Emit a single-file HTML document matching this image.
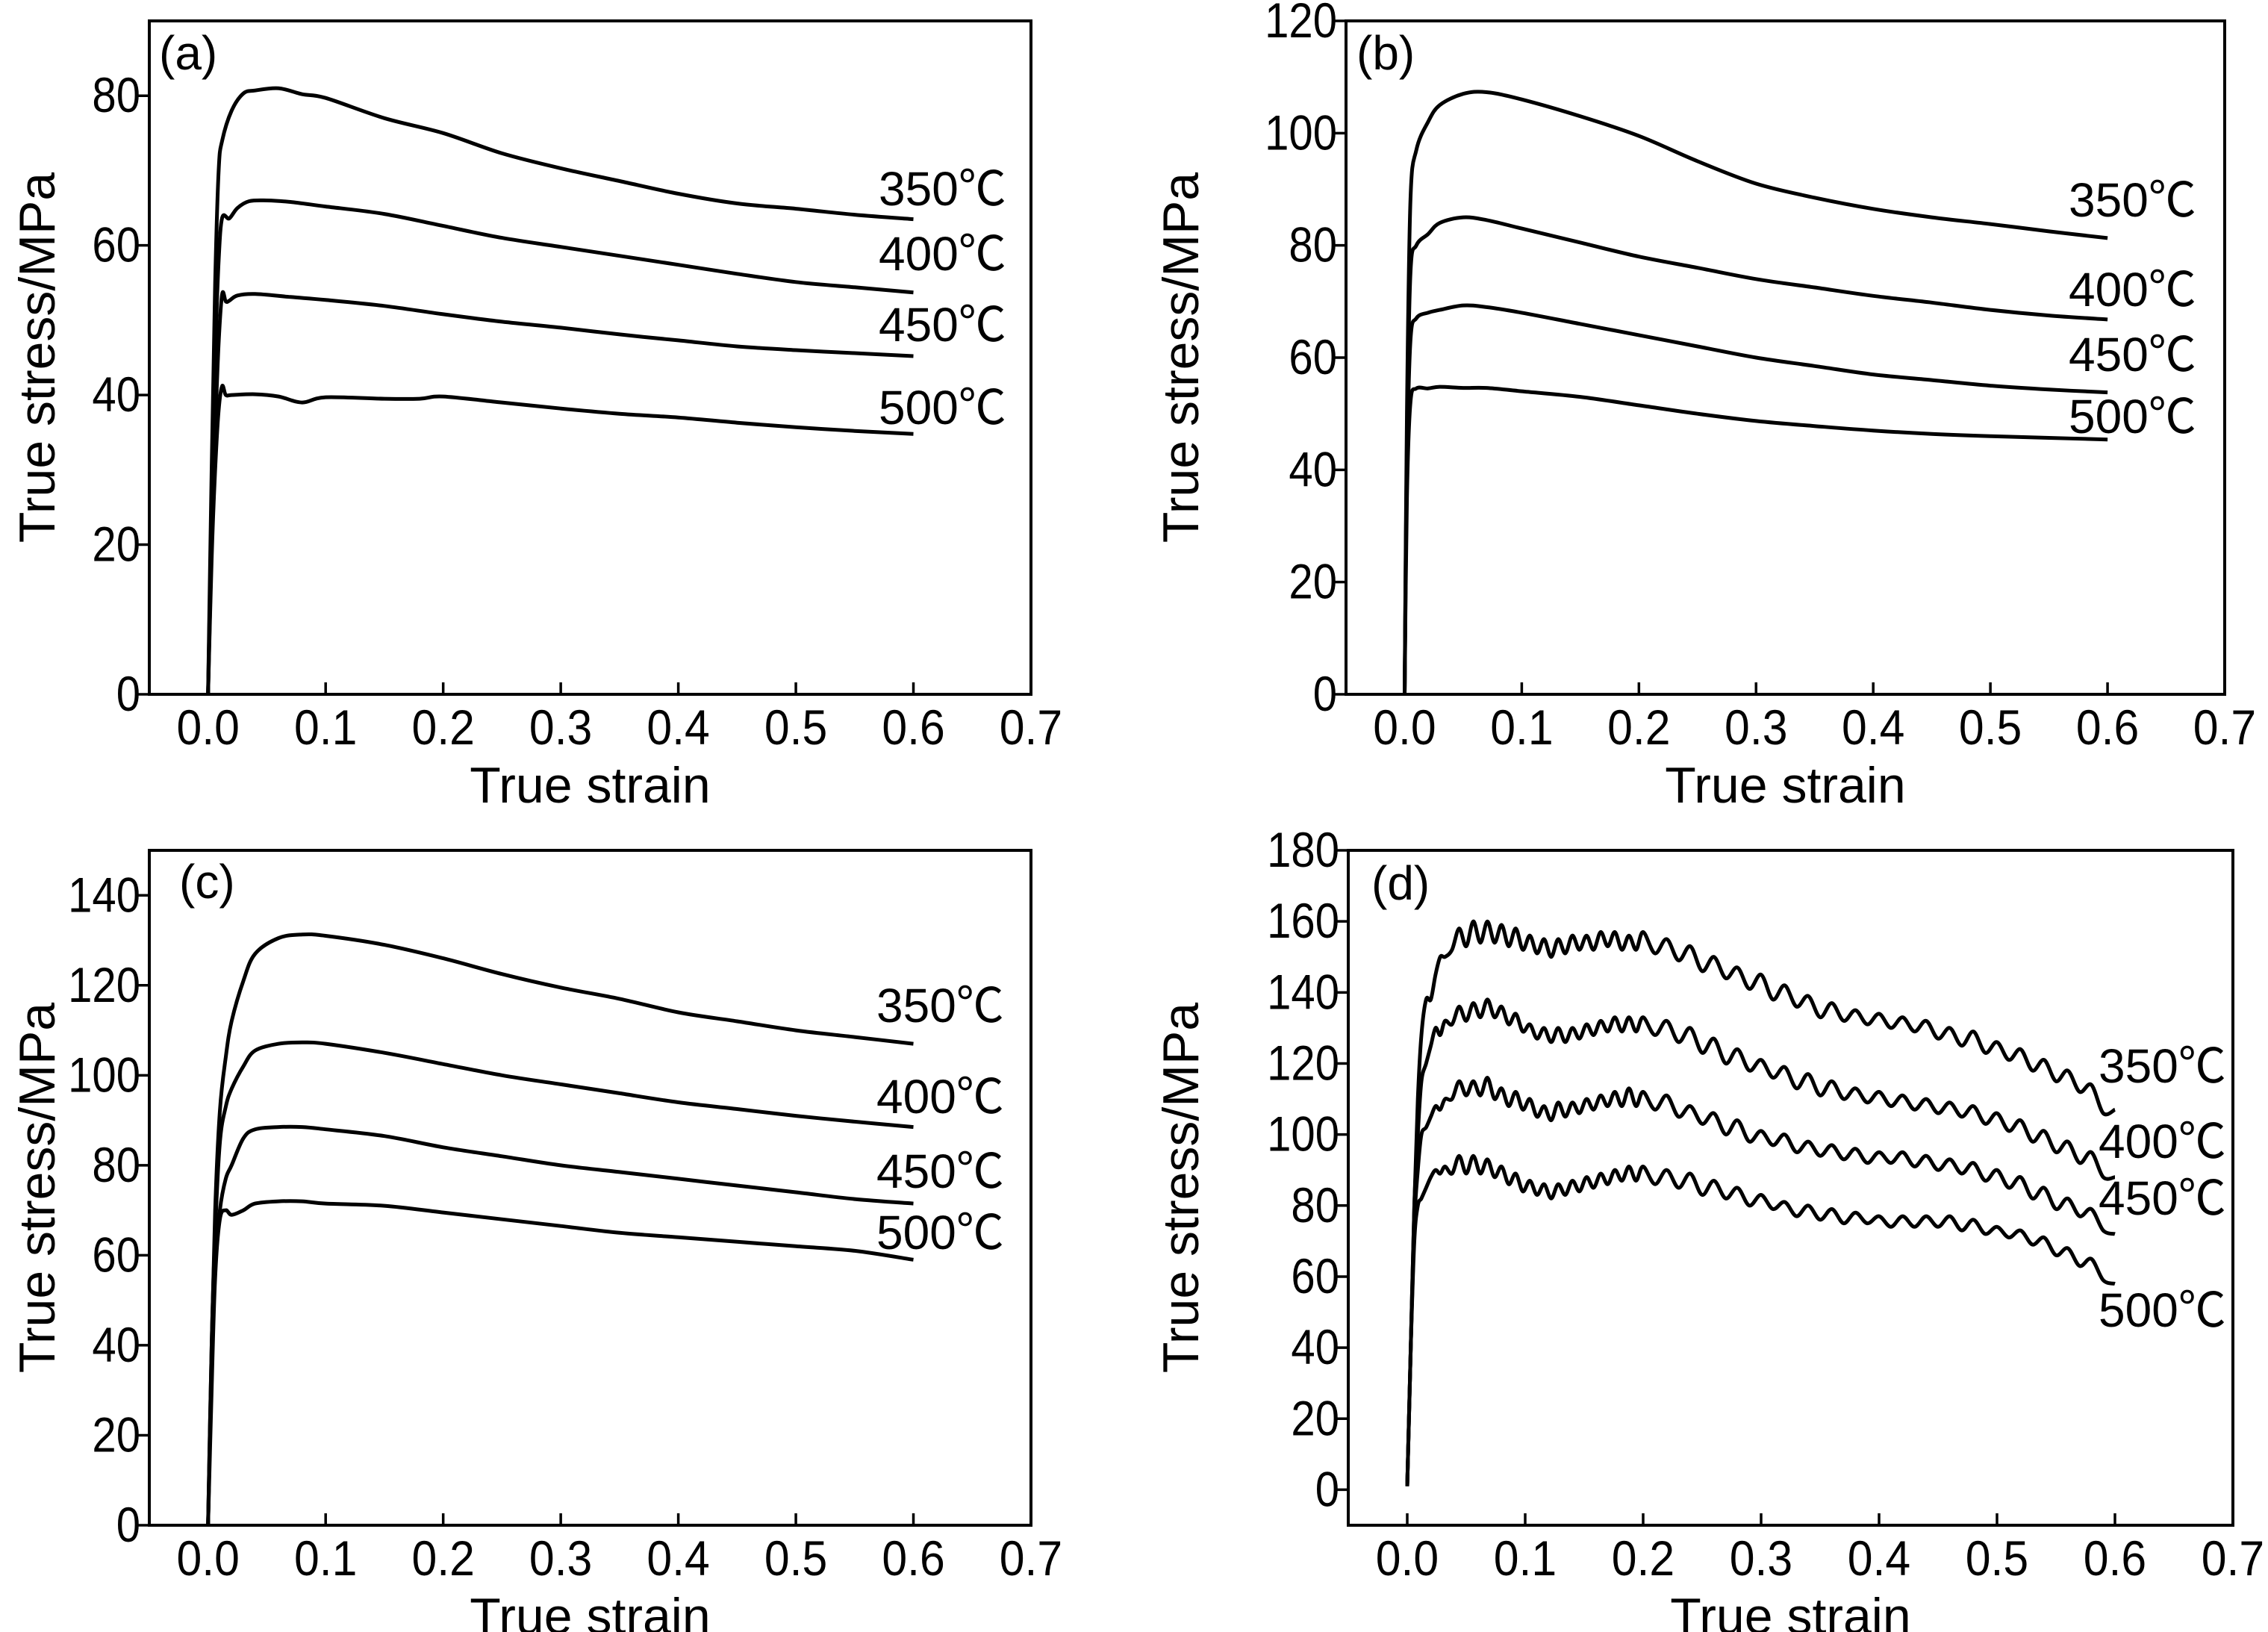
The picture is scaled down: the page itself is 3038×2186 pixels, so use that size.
<!DOCTYPE html>
<html><head><meta charset="utf-8"><style>
html,body{margin:0;padding:0;background:#fff}
svg{display:block}
text{font-family:"Liberation Sans","Noto Sans CJK SC",sans-serif;fill:#000}
</style></head><body>
<svg id="fig" width="3038" height="2186" viewBox="0 0 3038 2186" xmlns="http://www.w3.org/2000/svg"></svg>
<script>
// ---- data ----
const xTickLabels = ["0.0","0.1","0.2","0.3","0.4","0.5","0.6","0.7"];
const xTickValues = [0,0.1,0.2,0.3,0.4,0.5,0.6,0.7];
const yTicksA = [0,20,40,60,80];
const yTicksB = [0,20,40,60,80,100,120];
const yTicksC = [0,20,40,60,80,100,120,140];
const yTicksD = [0,20,40,60,80,100,120,140,160,180];
const tempLabels = ["350℃","400℃","450℃","500℃"];

const aStrain350 = [0,0.003,0.006,0.009,0.012,0.02,0.03,0.04,0.06,0.08,0.1,0.15,0.2,0.25,0.3,0.35,0.4,0.45,0.5,0.55,0.6];
const aStress350 = [0,30,55,70,74,78,80.3,80.7,81,80.2,79.7,77,75,72.3,70.3,68.6,66.9,65.6,64.9,64.1,63.5];
const aStrain400 = [0,0.003,0.006,0.009,0.012,0.018,0.025,0.035,0.05,0.07,0.1,0.15,0.2,0.25,0.3,0.35,0.4,0.45,0.5,0.55,0.6];
const aStress400 = [0,25,45,58,63.7,63.6,65,65.9,66,65.8,65.2,64.2,62.6,61,59.8,58.6,57.4,56.2,55.1,54.4,53.7];
const aStrain450 = [0,0.003,0.006,0.009,0.012,0.015,0.018,0.025,0.04,0.07,0.1,0.15,0.2,0.25,0.3,0.35,0.4,0.45,0.5,0.55,0.6];
const aStress450 = [0,20,35,47,53.5,52.5,52.6,53.3,53.5,53.1,52.7,51.9,50.8,49.8,49,48.1,47.3,46.5,46,45.6,45.2];
const aStrain500 = [0,0.003,0.006,0.009,0.012,0.015,0.02,0.04,0.06,0.08,0.1,0.15,0.18,0.2,0.25,0.3,0.35,0.4,0.45,0.5,0.55,0.6];
const aStress500 = [0,18,30,38,41.2,40,40,40.1,39.8,39,39.7,39.5,39.5,39.8,39,38.2,37.5,37,36.3,35.7,35.2,34.8];

const bStrain = [0,0.002,0.005,0.01,0.02,0.03,0.05,0.07,0.1,0.15,0.2,0.25,0.3,0.35,0.4,0.45,0.5,0.55,0.6];
const bStress350 = [0,50,88,97,102,105,107,107.3,106,103,99.5,95,91,88.5,86.5,85,83.8,82.5,81.3];
const bStress400 = [0,45,75,80,82,84,85,84.5,83,80.5,78,76,74,72.5,71,69.8,68.5,67.5,66.8];
const bStress450 = [0,40,63,67,68,68.5,69.3,69,68,66,64,62,60,58.5,57,56,55,54.3,53.8];
const bStress500 = [0,35,52,54.5,54.5,54.8,54.6,54.6,54,53,51.5,50,48.7,47.8,47,46.4,46,45.7,45.4];

const cStrain = [0,0.003,0.006,0.01,0.015,0.02,0.03,0.04,0.06,0.08,0.1,0.15,0.2,0.25,0.3,0.35,0.4,0.45,0.5,0.55,0.6];
const cStress350 = [0,40,70,92,104,112,121,127,130.5,131.3,131,129,126,122.5,119.5,117,114,112,110,108.5,107];
const cStress400 = [0,40,65,85,93,97,102,105.5,107,107.3,107,105,102.5,100,98,96,94,92.5,91,89.7,88.5];
const cStress450 = [0,35,58,70,77,80,86,88,88.5,88.5,88,86.5,84,82,80,78.5,77,75.5,74,72.5,71.5];
const cStress500 = [0,30,55,68,70,69,70,71.5,72,72,71.5,71,69.5,68,66.5,65,64,63,62,61,59];

const dStrain = [0,0.003,0.006,0.009,0.012,0.016,0.02,0.024,0.028,0.032,
 0.038,0.044,0.050,0.056,0.062,0.068,0.074,0.080,0.086,0.092,0.098,0.104,0.110,0.116,0.122,0.128,0.134,0.140,0.146,0.152,0.158,0.164,0.170,0.176,0.182,0.188,0.194,0.200,
 0.21,0.22,0.23,0.24,0.25,0.26,0.27,0.28,0.29,0.30,0.31,0.32,0.33,0.34,0.35,0.36,0.37,0.38,0.39,0.40,0.41,0.42,0.43,0.44,0.45,0.46,0.47,0.48,0.49,0.50,0.51,0.52,0.53,0.54,0.55,0.56,0.57,0.58,0.59,0.60];
const dStress350 = [1,40,80,110,128,138,138,145,150,150,
 152,158,153,160,154,160,154,159,153,158,152,156,151,155,150,155,151,156,152,156,152,157,153,157,152,156,152,157,
 151,155,149,153,146,150,144,147,141,145,138,142,136,139,133,137,132,135,131,134,130,133,129,132,127,130,125,129,123,126,121,124,118,121,115,118,112,114,106,107];
const dStress400 = [1,40,80,100,115,120,125,130,128,132,
 131,136,132,137,133,138,133,136,131,134,129,131,127,130,126,130,126,130,127,131,128,132,129,133,129,133,129,133,
 128,132,126,130,123,127,120,124,118,121,116,119,113,117,111,115,110,113,109,112,108,111,107,110,106,109,105,108,103,106,101,104,98,101,95,98,92,95,88,88];
const dStress450 = [1,40,75,90,100,102,105,108,107,110,
 110,115,111,115,111,116,110,113,108,112,107,110,105,108,104,109,105,109,106,110,107,111,108,112,108,113,108,112,
 107,111,105,108,103,106,100,104,98,101,97,100,95,98,94,97,93,96,92,95,92,95,91,94,90,93,89,92,87,90,85,88,82,85,79,82,77,79,73,72];
const dStress500 = [1,40,70,80,82,85,88,90,89,91,
 89,94,89,94,89,93,88,91,86,89,84,87,83,86,82,86,83,87,84,88,85,89,86,90,87,91,87,91,
 86,90,85,89,83,87,82,85,80,83,79,81,77,80,76,79,75,78,75,77,74,77,74,77,74,77,73,76,72,74,71,73,69,71,66,68,63,65,59,58];

// ---- layout ----
const panels = [
 {id:"a", L:200, R:1381, T:28, B:930, ymin:0, ymax:90, yt:yTicksA, letter:"(a)", lx:213, ly:93,
  series:[[aStrain350,aStress350],[aStrain400,aStress400],[aStrain450,aStress450],[aStrain500,aStress500]],
  labels:[[1177,275],[1177,362],[1177,457],[1177,568]], ytx:50},
 {id:"b", L:1803, R:2980, T:28, B:930, ymin:0, ymax:120, yt:yTicksB, letter:"(b)", lx:1817, ly:93,
  series:[[bStrain,bStress350],[bStrain,bStress400],[bStrain,bStress450],[bStrain,bStress500]],
  labels:[[2771,290],[2771,410],[2771,497],[2771,580]], ytx:1582},
 {id:"c", L:200, R:1381, T:1139, B:2043, ymin:0, ymax:150, yt:yTicksC, letter:"(c)", lx:240, ly:1203,
  series:[[cStrain,cStress350],[cStrain,cStress400],[cStrain,cStress450],[cStrain,cStress500]],
  labels:[[1174,1369],[1174,1491],[1174,1591],[1174,1673]], ytx:50},
 {id:"d", L:1806, R:2991, T:1139, B:2043, ymin:-10, ymax:180, yt:yTicksD, letter:"(d)", lx:1837, ly:1205,
  series:[[dStrain,dStress350],[dStrain,dStress400],[dStrain,dStress450],[dStrain,dStress500]],
  labels:[[2811,1450],[2811,1551],[2811,1627],[2811,1777]], ytx:1582}
];
const NS = "http://www.w3.org/2000/svg";
const svg = document.getElementById("fig");
function mk(tag, attrs, parent){const e=document.createElementNS(NS,tag);for(const k in attrs)e.setAttribute(k,attrs[k]);(parent||svg).appendChild(e);return e;}
function smooth(pts){
  let d="M"+pts[0][0].toFixed(1)+","+pts[0][1].toFixed(1);
  for(let i=0;i<pts.length-1;i++){
    const p0=pts[Math.max(0,i-1)],p1=pts[i],p2=pts[i+1],p3=pts[Math.min(pts.length-1,i+2)];
    const c1=[p1[0]+(p2[0]-p0[0])/6,p1[1]+(p2[1]-p0[1])/6];
    const c2=[p2[0]-(p3[0]-p1[0])/6,p2[1]-(p3[1]-p1[1])/6];
    d+=" C"+c1[0].toFixed(1)+","+c1[1].toFixed(1)+" "+c2[0].toFixed(1)+","+c2[1].toFixed(1)+" "+p2[0].toFixed(1)+","+p2[1].toFixed(1);
  }
  return d;
}
panels.forEach(p=>{
  const g = mk("g",{});
  
  
  const xs = v => p.L + (v+0.05)/0.75*(p.R-p.L);
  const ys = v => p.B - (v-p.ymin)/(p.ymax-p.ymin)*(p.B-p.T);
  const fr = mk("rect",{x:p.L,y:p.T,width:p.R-p.L,height:p.B-p.T,fill:"none",stroke:"#000","stroke-width":4},g);
  
  
  xTickValues.forEach((v,i)=>{
    const x=xs(v);
    const t=mk("line",{x1:x,x2:x,y1:p.B,y2:p.B-16,stroke:"#000","stroke-width":3.5},g);
    
    
    const tx=mk("text",{x:0,y:0,"font-size":66,"text-anchor":"middle",transform:"translate("+x+" "+(p.B+67)+") scale(0.92 1)"},g);
    tx.textContent=xTickLabels[i];
    
    
  });
  p.yt.forEach(v=>{
    const y=ys(v);
    const t=mk("line",{x1:p.L,x2:p.L-18,y1:y,y2:y,stroke:"#000","stroke-width":3.5},g);
    
    
    const tx=mk("text",{x:0,y:0,"font-size":66,"text-anchor":"end",transform:"translate("+(p.L-12)+" "+(y+22)+") scale(0.88 1)"},g);
    tx.textContent=String(v);
    
    
  });
  const xt=mk("text",{x:(p.L+p.R)/2,y:p.B+145,"font-size":68,"text-anchor":"middle"},g);
  xt.textContent="True strain";
  
  
  const cy=(p.T+p.B)/2;
  const yt=mk("text",{x:p.ytx,y:cy,"font-size":68,"text-anchor":"middle","dominant-baseline":"central",transform:"rotate(-90 "+p.ytx+" "+cy+")"},g);
  yt.textContent="True stress/MPa";
  
  
  const lt=mk("text",{x:p.lx,y:p.ly,"font-size":64},g);
  lt.textContent=p.letter;
  
  
  p.series.forEach((s,k)=>{
    const pts=s[0].map((v,i)=>[xs(v),ys(s[1][i])]);
    const path=mk("path",{d:smooth(pts),fill:"none",stroke:"#000","stroke-width":5,"stroke-linejoin":"round"},g);
    
    
    const lb=mk("text",{x:p.labels[k][0],y:p.labels[k][1],"font-size":64},g);
    lb.textContent=tempLabels[k];
    
    
  });
});
</script>
</body></html>
